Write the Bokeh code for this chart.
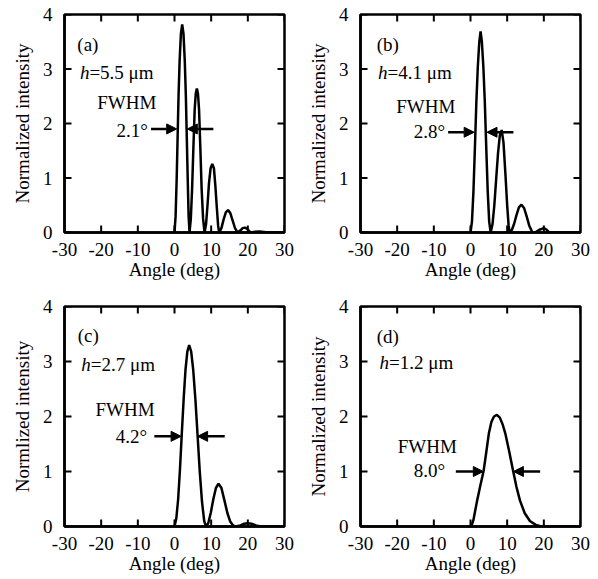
import math
from bokeh.plotting import figure
from bokeh.models import Range1d, FixedTicker, Arrow, NormalHead
from bokeh.layouts import column, row
from bokeh.embed import file_html
from bokeh.resources import INLINE
from bokeh.core.properties import value

# ---------------- data ----------------
x_ticks = [-30, -20, -10, 0, 10, 20, 30]
x_tick_labels = ["-30", "-20", "-10", "0", "10", "20", "30"]
y_ticks = [0, 1, 2, 3, 4]
y_tick_labels = ["0", "1", "2", "3", "4"]

angle_a = [0.0, 0.3, 0.6, 0.85, 1.1, 1.4, 1.75, 2.1, 2.45, 2.8, 3.1, 3.35, 3.6, 3.85, 4.1,
           4.45, 4.8, 5.15, 5.5, 5.8, 6.1, 6.4, 6.7, 7.05, 7.4, 7.8, 8.2,
           8.6, 9.0, 9.4, 9.85, 10.3, 10.75, 11.15, 11.55, 11.9, 12.2,
           12.8, 13.4, 14.0, 14.6, 15.2, 15.8, 16.5, 17.2,
           18.0, 18.6, 19.2, 19.8, 20.3, 20.8, 22.0, 23.2, 24.4, 25.5, 30.0]
intensity_a = [0.0, 0.30, 1.00, 1.75, 2.50, 3.15, 3.65, 3.82, 3.65, 3.15, 2.50, 1.75, 1.00, 0.30, 0.0,
               0.25, 0.80, 1.55, 2.25, 2.55, 2.64, 2.55, 2.25, 1.55, 0.80, 0.25, 0.0,
               0.15, 0.50, 0.90, 1.18, 1.26, 1.18, 0.85, 0.45, 0.12, 0.0,
               0.08, 0.24, 0.37, 0.41, 0.36, 0.23, 0.08, 0.0,
               0.04, 0.08, 0.09, 0.07, 0.03, 0.0, 0.015, 0.02, 0.01, 0.0, 0.0]

angle_b = [0.0, 0.4, 0.8, 1.2, 1.6, 2.0, 2.4, 2.75, 3.1, 3.5, 3.9, 4.3, 4.7, 5.1, 5.5,
           6.0, 6.5, 7.0, 7.5, 8.0, 8.5, 9.0, 9.5, 10.0, 10.4, 10.7,
           11.3, 11.9, 12.5, 13.2, 13.9, 14.6, 15.3, 16.0, 16.9,
           17.8, 18.8, 20.0, 20.8, 21.5, 30.0]
intensity_b = [0.0, 0.20, 0.75, 1.55, 2.40, 3.05, 3.50, 3.69, 3.50, 3.05, 2.40, 1.55, 0.75, 0.20, 0.0,
               0.15, 0.50, 0.98, 1.45, 1.78, 1.88, 1.65, 1.10, 0.50, 0.12, 0.0,
               0.05, 0.16, 0.31, 0.46, 0.51, 0.45, 0.30, 0.13, 0.0,
               0.01, 0.05, 0.08, 0.05, 0.0, 0.0]

angle_c = [0.0, 0.5, 1.0, 1.5, 2.0, 2.5, 3.0, 3.5, 4.0, 4.55, 5.1, 5.7, 6.3, 6.9, 7.5, 8.1, 8.6,
           9.2, 9.9, 10.6, 11.3, 12.0, 12.8, 13.6, 14.4, 15.2, 16.0, 16.6,
           18.0, 19.0, 20.0, 21.0, 22.2, 23.5, 30.0]
intensity_c = [0.0, 0.15, 0.50, 1.05, 1.70, 2.32, 2.85, 3.18, 3.30, 3.18, 2.85, 2.31, 1.65, 0.99, 0.45, 0.10, 0.0,
               0.06, 0.25, 0.50, 0.70, 0.78, 0.70, 0.48, 0.25, 0.09, 0.02, 0.0,
               0.02, 0.05, 0.06, 0.05, 0.02, 0.0, 0.0]

angle_d = [0.2, 0.8, 1.8, 2.7, 3.6, 4.3, 5.0, 5.7, 6.4, 7.2, 8.0, 8.8, 9.5, 10.5, 11.6,
           12.5, 13.5, 14.8, 16.2, 17.8, 19.4, 30.0]
intensity_d = [0.0, 0.12, 0.47, 0.75, 1.02, 1.35, 1.69, 1.90, 2.00, 2.03, 1.98, 1.85, 1.69, 1.38, 1.02,
               0.73, 0.47, 0.24, 0.10, 0.03, 0.0, 0.0]

panel_tags = ["(a)", "(b)", "(c)", "(d)"]
h_texts = ["=5.5 \u03bcm", "=4.1 \u03bcm", "=2.7 \u03bcm", "=1.2 \u03bcm"]
fwhm_values = ["2.1\u00b0", "2.8\u00b0", "4.2\u00b0", "8.0\u00b0"]
y_axis_labels = ["Normalized intensity", "Normalized intensity", "Normlized intensity", "Normalized intensity"]
x_axis_label = "Angle (deg)"

# annotation anchors (data units)
tag_x = [-26.5, -25.6, -26.4, -25.6]
tag_y = [3.45, 3.45, 3.47, 3.46]
h_x = [-25.8, -25.2, -25.4, -24.8]
h_y = [2.94, 2.94, 2.95, 2.99]
fwhm_x = [-13.0, -12.2, -13.5, -11.8]
fwhm_y = [2.38, 2.31, 2.12, 1.46]
val_x = [-7.3, -6.9, -7.45, -6.9]
val_y = [1.88, 1.86, 1.64, 1.02]

arrow_y = [1.90, 1.84, 1.64, 1.00]
left_start = [-6.4, -6.1, -5.5, -4.0]
left_tip = [0.6, 1.0, 1.8, 3.5]
right_tip = [3.5, 4.5, 6.3, 11.7]
right_end = [10.6, 11.7, 13.7, 19.0]

curves = [(angle_a, intensity_a), (angle_b, intensity_b), (angle_c, intensity_c), (angle_d, intensity_d)]

FONT = "Liberation Serif"
FS = "19px"
X0, X1 = -30, 30
Y0, Y1 = 0, 4


def make_panel(i, width, height, left, right, top, bottom):
    p = figure(width=width, height=height, x_range=Range1d(X0, X1), y_range=Range1d(Y0, Y1),
               output_backend="svg", toolbar_location=None,
               min_border_left=left, min_border_right=right,
               min_border_top=top, min_border_bottom=bottom)
    p.xgrid.visible = False
    p.ygrid.visible = False
    p.background_fill_color = "white"
    p.border_fill_color = "white"
    p.outline_line_color = "black"
    p.outline_line_width = 2.5
    p.outline_line_alpha = 1.0

    for ax, ticks, labels in ((p.xaxis[0], x_ticks, x_tick_labels), (p.yaxis[0], y_ticks, y_tick_labels)):
        ax.ticker = FixedTicker(ticks=ticks)
        ax.major_label_overrides = {t: l for t, l in zip(ticks, labels)}
        ax.major_tick_in = 0
        ax.major_tick_out = 0
        ax.major_tick_line_color = None
        ax.minor_tick_line_color = None
        ax.axis_line_width = 2.5
        ax.major_label_text_font = FONT
        ax.major_label_text_font_size = FS
        ax.major_label_text_color = "black"
        ax.axis_label_text_font = FONT
        ax.axis_label_text_font_size = FS
        ax.axis_label_text_font_style = "normal"
        ax.axis_label_text_color = "black"

    p.xaxis.axis_label = x_axis_label
    p.xaxis.major_label_standoff = 10
    p.xaxis.axis_label_standoff = 0
    p.yaxis.axis_label = y_axis_labels[i]
    p.yaxis.major_label_standoff = 12
    p.yaxis.axis_label_standoff = 7

    # inward tick marks on all four sides (half of each dash is clipped by the frame)
    p.scatter(x=x_ticks + x_ticks, y=[Y0] * len(x_ticks) + [Y1] * len(x_ticks), marker="dash",
              size=14, angle=math.pi / 2, line_color="black", line_width=2)
    p.scatter(x=[X0] * len(y_ticks) + [X1] * len(y_ticks), y=y_ticks + y_ticks, marker="dash",
              size=14, line_color="black", line_width=2)

    ax_, in_ = curves[i]
    p.line(ax_, in_, line_color="black", line_width=2.5)

    p.text(x=[tag_x[i]], y=[tag_y[i]], text=[panel_tags[i]], text_font=value(FONT),
           text_font_size=FS, text_align="left", text_baseline="alphabetic", text_color="black")
    p.text(x=[h_x[i]], y=[h_y[i]], text=["h"], text_font=value(FONT), text_font_style="italic",
           text_font_size=FS, text_align="left", text_baseline="alphabetic", text_color="black")
    p.text(x=[h_x[i]], y=[h_y[i]], text=[h_texts[i]], x_offset=9.5, text_font=value(FONT),
           text_font_size=FS, text_align="left", text_baseline="alphabetic", text_color="black")
    p.text(x=[fwhm_x[i]], y=[fwhm_y[i]], text=["FWHM"], text_font=value(FONT),
           text_font_size=FS, text_align="center", text_baseline="alphabetic", text_color="black")
    p.text(x=[val_x[i]], y=[val_y[i]], text=[fwhm_values[i]], text_font=value(FONT),
           text_font_size=FS, text_align="right", text_baseline="alphabetic", text_color="black")

    for xs, xe in ((left_start[i], left_tip[i]), (right_end[i], right_tip[i])):
        p.add_layout(Arrow(end=NormalHead(size=10, fill_color="black", line_color="black", line_width=1),
                           x_start=xs, y_start=arrow_y[i], x_end=xe, y_end=arrow_y[i],
                           line_color="black", line_width=2.5))
    return p


p1 = make_panel(0, 304, 294, 64, 20, 14, 62)
p2 = make_panel(1, 292, 294, 56, 16, 14, 62)
p3 = make_panel(2, 304, 285, 64, 20, 12, 53)
p4 = make_panel(3, 292, 285, 56, 16, 12, 53)

layout = column(row(p1, p2), row(p3, p4))
open("out.html", "w").write(file_html(layout, INLINE))
